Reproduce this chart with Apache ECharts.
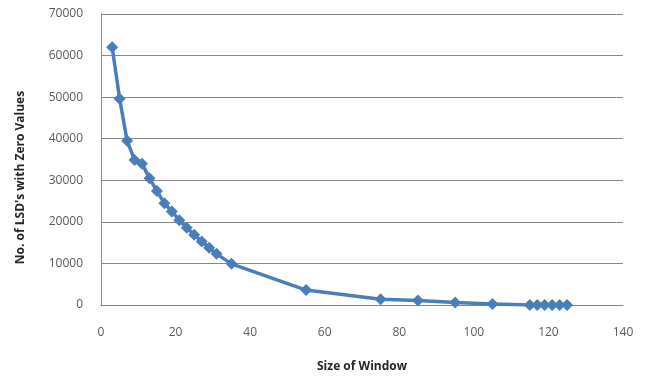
<!DOCTYPE html>
<html>
<head>
<meta charset="utf-8">
<script src="https://cdn.jsdelivr.net/npm/echarts@6/dist/echarts.min.js"></script>
<style>
html,body{margin:0;padding:0;background:#fff;}
#c{width:649px;height:381px;}
</style>
</head>
<body>
<div id="c"></div>
<script>
var windowSizes = [3, 5, 7, 9, 11, 13, 15, 17, 19, 21, 23, 25, 27, 29, 31, 35, 55, 75, 85, 95, 105, 115, 117, 119, 121, 123, 125];
var zeroCounts  = [62000, 49600, 39500, 34900, 34000, 30500, 27400, 24500, 22500, 20400, 18600, 16900, 15300, 13800, 12300, 9900, 3600, 1400, 1100, 600, 250, 0, 0, 0, 0, 0, 0];
var xTitle = "Size of Window";
var yTitle = "No. of LSD's with Zero Values";

var chart = echarts.init(document.getElementById('c'), null, {renderer: 'canvas'});
var font = "'Open Sans', 'Liberation Sans', sans-serif";
chart.setOption({
  animation: false,
  backgroundColor: '#ffffff',
  grid: {left: 101, right: 26, top: 14, bottom: 76, containLabel: false},
  xAxis: {
    type: 'value', min: 0, max: 140, interval: 20,
    name: xTitle, nameLocation: 'middle', nameGap: 56,
    nameTextStyle: {fontFamily: font, fontSize: 12, fontWeight: 'bold', color: '#262626'},
    axisLine: {show: true, lineStyle: {color: '#868686', width: 1}},
    axisTick: {show: false},
    axisLabel: {margin: 22, fontFamily: font, fontSize: 12, color: '#595959'},
    splitLine: {show: false}
  },
  yAxis: {
    type: 'value', min: 0, max: 70000, interval: 10000,
    name: yTitle, nameLocation: 'middle', nameGap: 74,
    nameTextStyle: {fontFamily: font, fontSize: 12, fontWeight: 'bold', color: '#262626',
      padding: [0, 36, 0, 0]},
    axisLine: {show: true, lineStyle: {color: '#868686', width: 1}},
    axisTick: {show: false},
    axisLabel: {margin: 18, fontFamily: font, fontSize: 12, color: '#595959',
      formatter: function (v) { return String(v); }},
    splitLine: {show: true, lineStyle: {color: '#868686', width: 1}}
  },
  series: [{
    type: 'line',
    data: windowSizes.map(function (x, i) { return [x, zeroCounts[i]]; }),
    symbol: 'diamond', symbolSize: 12,
    itemStyle: {color: '#4A7EBB'},
    lineStyle: {color: '#4A7EBB', width: 3.5}
  }]
});
</script>
</body>
</html>
